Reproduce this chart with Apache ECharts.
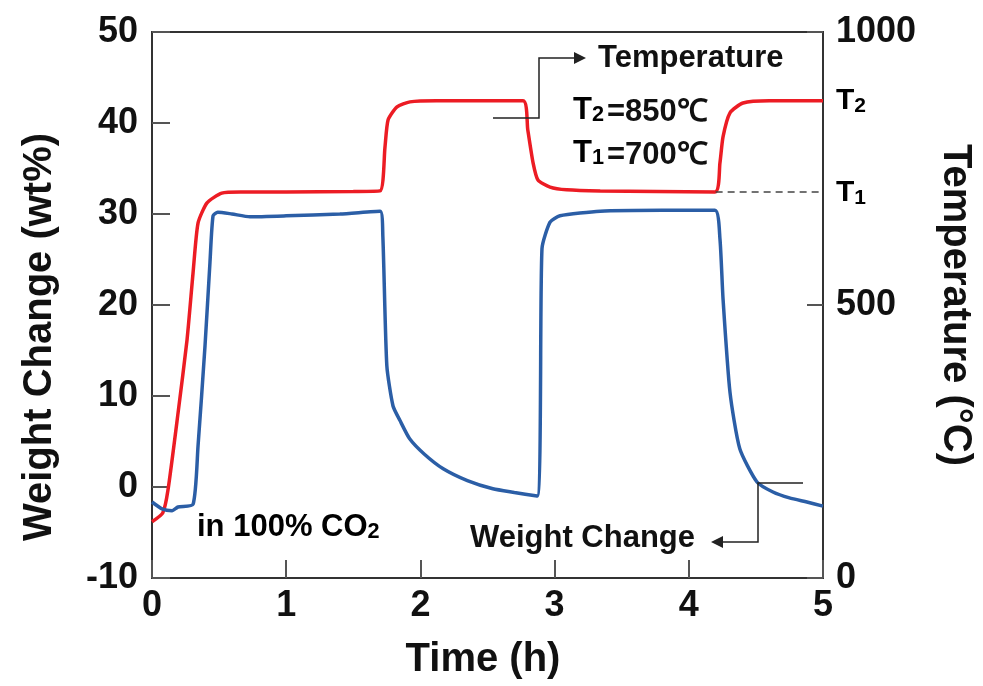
<!DOCTYPE html>
<html>
<head>
<meta charset="utf-8">
<script src="https://cdn.jsdelivr.net/npm/echarts@6/dist/echarts.min.js"></script>
<style>
  html, body { margin: 0; padding: 0; background: #fff; }
  #main { width: 983px; height: 686px; }
</style>
</head>
<body>
<div id="main"></div>
<script>
// weight change (wt%) vs time (h)
var timeW = [0, 0.075, 0.15, 0.194, 0.306, 0.343, 0.395, 0.432, 0.455, 0.49, 0.596, 0.73, 1.0, 1.4, 1.70,
  1.72, 1.75, 1.796, 1.848, 1.92, 2.03, 2.17, 2.35, 2.54, 2.70, 2.87,
  2.906, 2.966, 3.04, 3.34, 3.8, 4.195,
  4.232, 4.255, 4.307, 4.38, 4.508, 4.627, 4.75, 4.88, 5.0];
var weight = [-1.65, -2.4, -2.6, -2.2, -1.9, 4.5, 15.5, 24.7, 29.8, 30.2, 30.0, 29.7, 29.8, 30.0, 30.3,
  27.6, 13.3, 8.9, 7.3, 5.3, 3.6, 2.0, 0.7, -0.2, -0.6, -1.0,
  26.2, 29.1, 29.8, 30.3, 30.4, 30.4,
  27.3, 20.7, 10.4, 4.2, 0.55, -0.55, -1.2, -1.65, -2.1];

// temperature (°C) vs time (h)
var timeT = [0, 0.08, 0.119, 0.194, 0.261, 0.306, 0.343, 0.41, 0.52, 0.66, 1.0, 1.5, 1.699,
  1.736, 1.759, 1.826, 1.922, 2.12, 2.765,
  2.80, 2.84, 2.876, 2.966, 3.09, 3.34, 4.195,
  4.232, 4.255, 4.307, 4.404, 4.6, 5.0];
var temp = [103, 119, 161, 302, 436, 559, 650, 687, 705, 707, 707, 708, 709,
  789, 839, 863, 872, 874, 874,
  821, 760, 729, 716, 711, 709, 707,
  760, 808, 852, 870, 874, 874];

var timeTicks = [0, 1, 2, 3, 4, 5];
var weightTicks = [-10, 0, 10, 20, 30, 40, 50];
var tempTicks = [0, 500, 1000];

var weightData = timeW.map(function (t, i) { return [t, weight[i]]; });
var tempData = timeT.map(function (t, i) { return [t, temp[i]]; });

var FONT = '"Liberation Sans", Arial, Helvetica, sans-serif';
var RED = '#ec1c24';
var BLUE = '#2b5ea6';
var AXIS = '#333';

var myChart = echarts.init(document.getElementById('main'));

var option = {
  backgroundColor: '#fff',
  animation: false,
  grid: {
    left: 152, right: 160, top: 32, bottom: 108,
    show: true, borderColor: AXIS, borderWidth: 2
  },
  xAxis: {
    type: 'value',
    min: timeTicks[0], max: timeTicks[timeTicks.length - 1], interval: 1,
    axisLine: { onZero: false, lineStyle: { color: AXIS, width: 2 } },
    axisTick: { inside: true, length: 18, lineStyle: { color: '#555', width: 2 } },
    axisLabel: { margin: 10, color: '#111', fontSize: 36, fontWeight: 'bold', fontFamily: FONT },
    splitLine: { show: false }
  },
  yAxis: [
    {
      type: 'value',
      min: weightTicks[0], max: weightTicks[weightTicks.length - 1], interval: 10,
      axisLine: { show: true, onZero: false, lineStyle: { color: AXIS, width: 2 } },
      axisTick: { show: true, inside: true, length: 18, lineStyle: { color: '#555', width: 2 } },
      axisLabel: { margin: 14, color: '#111', fontSize: 36, fontWeight: 'bold', fontFamily: FONT },
      splitLine: { show: false }
    },
    {
      type: 'value',
      position: 'right',
      min: tempTicks[0], max: tempTicks[tempTicks.length - 1], interval: 500,
      axisLine: { show: true, onZero: false, lineStyle: { color: AXIS, width: 2 } },
      axisTick: { show: true, inside: true, length: 16, lineStyle: { color: '#555', width: 2 } },
      axisLabel: {
        margin: 13, color: '#111', fontSize: 36, fontWeight: 'bold', fontFamily: FONT,
        formatter: function (v) { return String(v); }
      },
      splitLine: { show: false }
    }
  ],
  series: [
    {
      name: 'Temperature',
      type: 'line',
      yAxisIndex: 1,
      data: tempData,
      showSymbol: false,
      smooth: 0.2,
      lineStyle: { color: RED, width: 3.5 },
      z: 3,
      markLine: {
        silent: true,
        symbol: 'none',
        label: { show: false },
        lineStyle: { color: '#444', width: 1.5, type: [7, 5] },
        data: [[{ coord: [4.2, 707] }, { coord: [5, 707] }]]
      }
    },
    {
      name: 'Weight Change',
      type: 'line',
      yAxisIndex: 0,
      data: weightData,
      showSymbol: false,
      smooth: 0.2,
      lineStyle: { color: BLUE, width: 3.5 },
      z: 4
    }
  ]
};
myChart.setOption(option);

// annotations
var txt = { fill: '#111', fontFamily: FONT, fontWeight: 'bold' };
function text(x, y, s, size, extra) {
  var st = Object.assign({}, txt, { x: x, y: y, text: s, fontSize: size, textVerticalAlign: 'middle' }, extra || {});
  return { type: 'text', z: 10, style: st };
}
function sub(main, s, size) {
  return {
    text: '{a|' + main + '}{b|' + s + '}',
    rich: {
      a: { fontSize: size, fontWeight: 'bold', fontFamily: FONT, color: '#111' },
      b: { fontSize: size * 0.7, fontWeight: 'bold', fontFamily: FONT, color: '#111', verticalAlign: 'bottom', padding: [size * 0.35, 0, 0, 0] }
    }
  };
}
var line = { stroke: '#222', lineWidth: 1.5, fill: null };

myChart.setOption({
  graphic: [
    // axis names
    { type: 'text', x: 40, y: 337, rotation: Math.PI / 2, z: 10,
      style: Object.assign({}, txt, { text: 'Weight Change (wt%)', fontSize: 40, textAlign: 'center', textVerticalAlign: 'middle' }) },
    { type: 'text', x: 955, y: 305, rotation: -Math.PI / 2, z: 10,
      style: Object.assign({}, txt, { text: 'Temperature (°C)', fontSize: 40, textAlign: 'center', textVerticalAlign: 'middle' }) },
    { type: 'text', x: 483, y: 660, z: 10,
      style: Object.assign({}, txt, { text: 'Time (h)', fontSize: 40, textAlign: 'center', textVerticalAlign: 'middle' }) },
    // right axis T labels
    { type: 'text', x: 836, y: 101, z: 10, style: Object.assign({}, sub('T', '2', 30), { textVerticalAlign: 'middle' }) },
    { type: 'text', x: 836, y: 193, z: 10, style: Object.assign({}, sub('T', '1', 30), { textVerticalAlign: 'middle' }) },
    // inside labels
    text(598, 58, 'Temperature', 31),
    { type: 'text', x: 573, y: 110, z: 10, style: Object.assign({}, sub('T', '2', 31), { textVerticalAlign: 'middle' }) },
    text(607, 112, '=850℃', 31),
    { type: 'text', x: 573, y: 153, z: 10, style: Object.assign({}, sub('T', '1', 31), { textVerticalAlign: 'middle' }) },
    text(607, 155, '=700℃', 31),
    { type: 'text', x: 197, y: 527, z: 10, style: Object.assign({}, sub('in 100% CO', '2', 31), { textVerticalAlign: 'middle' }) },
    text(470, 538, 'Weight Change', 31),
    // leader arrows
    { type: 'polyline', z: 9, shape: { points: [[493, 118], [539, 118], [539, 58], [576, 58]] }, style: line },
    { type: 'polygon', z: 9, shape: { points: [[586, 58], [574, 52], [574, 64]] }, style: { fill: '#222' } },
    { type: 'polyline', z: 9, shape: { points: [[803, 483], [758, 483], [758, 542], [720, 542]] }, style: line },
    { type: 'polygon', z: 9, shape: { points: [[711, 542], [723, 536], [723, 548]] }, style: { fill: '#222' } }
  ]
});
</script>
</body>
</html>
